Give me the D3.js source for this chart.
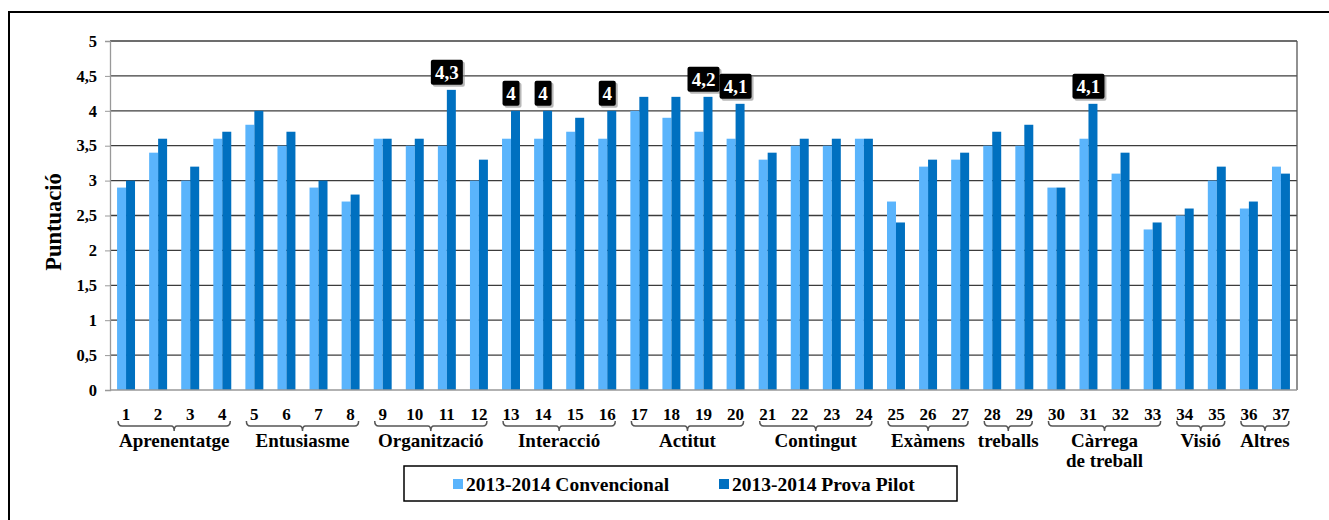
<!DOCTYPE html>
<html>
<head>
<meta charset="utf-8">
<script src="https://cdn.jsdelivr.net/npm/d3@7"></script>
<style>
  body { margin: 0; background: #fff; }
</style>
</head>
<body>
<div id="chart"></div>
<script>
// item numbers on the x axis
var items = d3.range(1, 38);

// 2013-2014 Convencional
var convencional = [2.9, 3.4, 3.0, 3.6, 3.8, 3.5, 2.9, 2.7, 3.6, 3.5, 3.5, 3.0,
  3.6, 3.6, 3.7, 3.6, 4.0, 3.9, 3.7, 3.6, 3.3, 3.5, 3.5, 3.6, 2.7, 3.2, 3.3,
  3.5, 3.5, 2.9, 3.6, 3.1, 2.3, 2.5, 3.0, 2.6, 3.2];

// 2013-2014 Prova Pilot
var pilot = [3.0, 3.6, 3.2, 3.7, 4.0, 3.7, 3.0, 2.8, 3.6, 3.6, 4.3, 3.3,
  4.0, 4.0, 3.9, 4.0, 4.2, 4.2, 4.2, 4.1, 3.4, 3.6, 3.6, 3.6, 2.4, 3.3, 3.4,
  3.7, 3.8, 2.9, 4.1, 3.4, 2.4, 2.6, 3.2, 2.7, 3.1];

// items whose pilot value gets a callout
var labelled = [11, 13, 14, 16, 19, 20, 31];

// groups of items
var groupNames = [["Aprenentatge"], ["Entusiasme"], ["Organització"], ["Interacció"],
  ["Actitut"], ["Contingut"], ["Exàmens"], ["treballs"], ["Càrrega", "de treball"],
  ["Visió"], ["Altres"]];
var groupFirst = [1, 5, 9, 13, 17, 21, 25, 28, 30, 34, 36];
var groupLast  = [4, 8, 12, 16, 20, 24, 27, 29, 33, 35, 37];

var yTicks = d3.range(0, 5.01, 0.5);
var seriesNames = ["2013-2014 Convencional", "2013-2014 Prova Pilot"];
var colors = ["#5ab4fc", "#0070c0"];

var FONT = "Liberation Serif, Times New Roman, serif";

var W = 1329, H = 520;
var margin = {top: 41, left: 110, right: 32, bottom: 130};
var width = W - margin.left - margin.right,
    height = H - margin.top - margin.bottom;

var svg = d3.select("#chart").append("svg")
    .attr("width", W)
    .attr("height", H)
    .attr("font-family", FONT)
    .attr("font-weight", "bold");

// outer frame
svg.append("path")
    .attr("d", "M9,530 V12 H1340")
    .attr("fill", "none")
    .attr("stroke", "#000")
    .attr("stroke-width", 2);

var g = svg.append("g")
    .attr("transform", "translate(" + margin.left + "," + margin.top + ")");

var x = d3.scaleBand()
    .domain(items)
    .range([0, width])
    .paddingInner(0.44)
    .paddingOuter(0.22);

var xSub = d3.scaleBand()
    .domain([0, 1])
    .range([0, x.bandwidth()]);

var y = d3.scaleLinear()
    .domain([0, 5])
    .range([height, 0]);

// gridlines
g.selectAll(".grid")
    .data(yTicks.slice(1))
    .enter().append("line")
    .attr("x1", 0).attr("x2", width)
    .attr("y1", d => y(d)).attr("y2", d => y(d))
    .attr("stroke", "#3c3c3c")
    .attr("stroke-width", 1.3);

// right border of plot
g.append("line")
    .attr("x1", width).attr("x2", width)
    .attr("y1", 0).attr("y2", height)
    .attr("stroke", "#555").attr("stroke-width", 1.3);

// bars
var series = [convencional, pilot];
series.forEach(function(vals, s) {
  g.selectAll(".bar" + s)
    .data(items)
    .enter().append("rect")
    .attr("x", d => x(d) + xSub(s))
    .attr("width", xSub.bandwidth())
    .attr("y", (d, i) => y(vals[i]))
    .attr("height", (d, i) => height - y(vals[i]))
    .attr("fill", colors[s]);
});

// y axis
var yAxis = g.append("g")
    .call(d3.axisLeft(y).tickValues(yTicks).tickSize(5).tickPadding(8)
      .tickFormat(d => String(d).replace(".", ",")));
yAxis.attr("font-family", FONT).attr("font-size", 16.5);
yAxis.select(".domain").attr("stroke", "#999").attr("stroke-width", 1.3);
yAxis.selectAll(".tick line").attr("stroke", "#999");
yAxis.selectAll(".tick text").attr("fill", "#000");

// x axis line
g.append("line")
    .attr("x1", 0).attr("x2", width)
    .attr("y1", height).attr("y2", height)
    .attr("stroke", "#999").attr("stroke-width", 1.3);

// item numbers
g.selectAll(".num")
    .data(items)
    .enter().append("text")
    .attr("x", d => x(d) + x.bandwidth() / 2)
    .attr("y", height + 30)
    .attr("text-anchor", "middle")
    .attr("font-size", 17)
    .text(d => d);

// group braces and labels
var braceY = height + 36;
groupFirst.forEach(function(first, i) {
  var x0 = x(first) + 1,
      x1 = x(groupLast[i]) + x.bandwidth() - 1,
      xm = (x0 + x1) / 2;
  g.append("path")
    .attr("d", "M" + x0 + "," + (braceY - 5) +
      " Q" + x0 + "," + braceY + " " + (x0 + 4) + "," + braceY +
      " H" + (xm - 3) + " Q" + xm + "," + braceY + " " + xm + "," + (braceY + 5) +
      " Q" + xm + "," + braceY + " " + (xm + 3) + "," + braceY +
      " H" + (x1 - 4) + " Q" + x1 + "," + braceY + " " + x1 + "," + (braceY - 5))
    .attr("fill", "none")
    .attr("stroke", "#555")
    .attr("stroke-width", 1.5);
  var t = g.append("text")
    .attr("x", xm)
    .attr("y", height + 57)
    .attr("text-anchor", "middle")
    .attr("font-size", 19);
  groupNames[i].forEach(function(line, k) {
    t.append("tspan")
      .attr("x", xm)
      .attr("dy", k === 0 ? 0 : 20)
      .text(line);
  });
});

// callouts on pilot bars
labelled.forEach(function(item) {
  var v = pilot[item - 1];
  var label = String(v).replace(".", ",");
  var w = label.length > 1 ? 32 : 17, h = 25;
  var cx = x(item) + x.bandwidth() / 2;
  var top = y(v) - 5 - h;
  g.append("rect")
    .attr("x", cx - w / 2 + 2).attr("y", top + 2)
    .attr("width", w).attr("height", h)
    .attr("rx", 2)
    .attr("fill", "#888").attr("opacity", 0.6);
  g.append("rect")
    .attr("x", cx - w / 2).attr("y", top)
    .attr("width", w).attr("height", h)
    .attr("rx", 2)
    .attr("fill", "#000");
  g.append("text")
    .attr("x", cx)
    .attr("y", top + 19)
    .attr("text-anchor", "middle")
    .attr("font-size", 19)
    .attr("fill", "#fff")
    .text(label);
});

// y axis title
svg.append("text")
    .attr("transform", "translate(61,222) rotate(-90)")
    .attr("text-anchor", "middle")
    .attr("font-size", 22.5)
    .text("Puntuació");

// legend
var legend = svg.append("g");
legend.append("rect")
    .attr("x", 404).attr("y", 466)
    .attr("width", 553).attr("height", 35)
    .attr("fill", "#fff")
    .attr("stroke", "#000")
    .attr("stroke-width", 1.5);
var legendX = [453, 719];
seriesNames.forEach(function(name, i) {
  legend.append("rect")
    .attr("x", legendX[i]).attr("y", 479)
    .attr("width", 10).attr("height", 10)
    .attr("fill", colors[i]);
  legend.append("text")
    .attr("x", legendX[i] + 13)
    .attr("y", 491)
    .attr("font-size", 19.5)
    .text(name);
});
</script>
</body>
</html>
